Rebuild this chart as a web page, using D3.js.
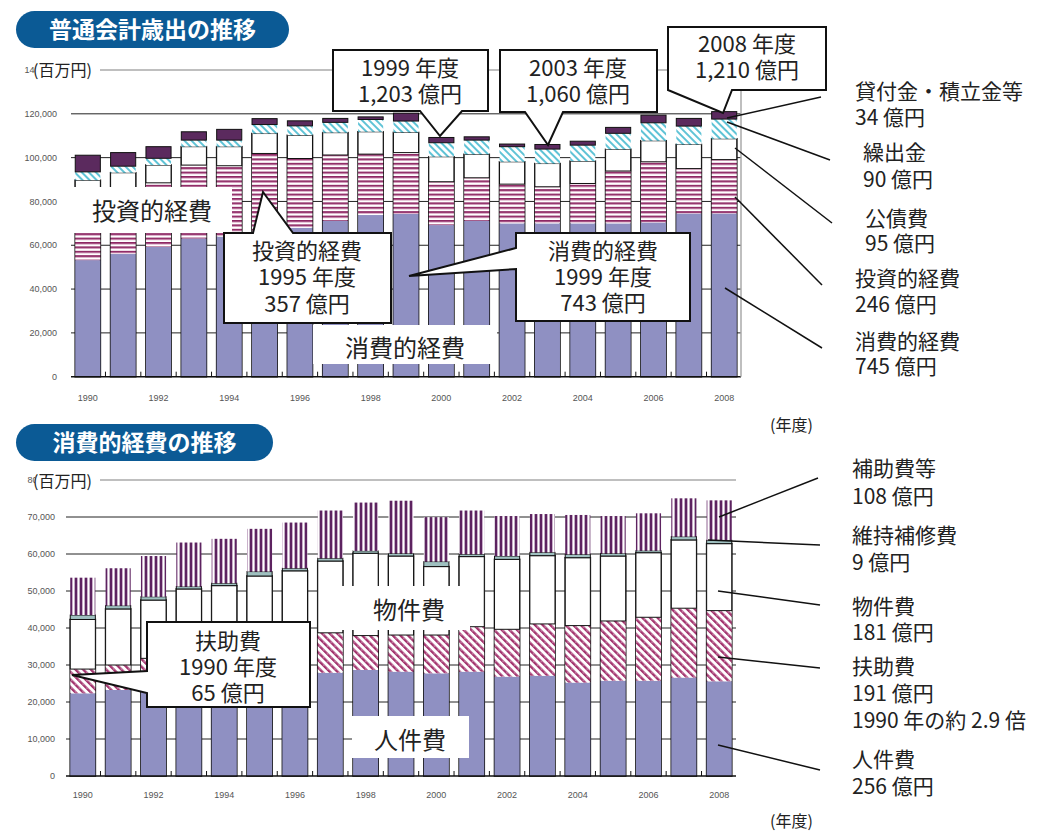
<!DOCTYPE html>
<html lang="ja">
<head>
<meta charset="UTF-8">
<title>普通会計歳出の推移 / 消費的経費の推移</title>
<script src="https://d3js.org/d3.v7.min.js"></script>
<style>
  body { margin: 0; background: #fff; }
  text { font-family: 'Noto Sans CJK JP', sans-serif; }
</style>
</head>
<body>
<svg id="chart" width="1062" height="832"></svg>
<script>
// ---- data (百万円) ----
const years = ["1990","1991","1992","1993","1994","1995","1996","1997","1998","1999",
               "2000","2001","2002","2003","2004","2005","2006","2007","2008"];
const yearTicks = ["1990","1992","1994","1996","1998","2000","2002","2004","2006","2008"];

// 普通会計歳出
const consumptive = [53200, 56000, 59300, 63100, 64000, 66200, 68000, 71200, 73800, 74300, 69200, 71200, 70000, 70000, 70000, 70000, 70400, 74500, 74500];
const investment  = [29500, 29600, 29200, 33500, 32300, 35700, 31600, 30000, 27800, 28000, 19800, 19600, 17900, 16700, 18200, 23900, 27700, 20500, 24600];
const publicDebt  = [7000, 7500, 8100, 8400, 8700, 9100, 10600, 10200, 10200, 9200, 11400, 10700, 10200, 10600, 10200, 9900, 9600, 11000, 9500];
const transfers   = [3800, 3000, 3100, 3000, 3000, 4100, 4300, 4700, 5600, 5200, 6400, 6500, 6900, 6600, 7300, 7300, 8200, 8400, 9000];
const loans       = [7600, 6200, 5300, 3800, 4900, 2700, 2300, 1800, 1200, 3600, 2400, 1500, 1200, 2100, 1800, 2700, 3500, 3500, 3400];

// 消費的経費
const personnel   = [22350, 23250, 24300, 25000, 25800, 26500, 27200, 27900, 28650, 28200, 27750, 28200, 26850, 27100, 25250, 25750, 25750, 26600, 25600];
const assistance  = [6550, 6750, 7500, 8200, 8800, 9400, 10000, 10800, 9300, 9900, 10350, 12150, 12800, 14000, 15400, 16150, 17150, 18750, 19100];
const goods       = [13400, 15150, 15750, 17350, 16850, 18150, 18250, 19400, 22250, 21350, 18500, 18950, 18900, 18450, 18350, 17550, 17450, 18450, 18100];
const maintenance = [1200, 900, 900, 650, 650, 1200, 700, 750, 650, 700, 1350, 650, 900, 900, 900, 700, 550, 900, 900];
const subsidies   = [10100, 10100, 11000, 11900, 12000, 11550, 12350, 12900, 13050, 14250, 12000, 11800, 10800, 10350, 10650, 10100, 10100, 10350, 10800];

const width = 1062, height = 832;
const svg = d3.select("#chart");
svg.append("rect").attr("width", width).attr("height", height).attr("fill", "white");

// ---- patterns ----
const defs = svg.append("defs");

let p = defs.append("pattern").attr("id", "invest").attr("patternUnits", "userSpaceOnUse")
  .attr("width", 6).attr("height", 4.4);
p.append("rect").attr("width", 6).attr("height", 4.4).attr("fill", "#fff");
p.append("rect").attr("width", 6).attr("height", 1.7).attr("fill", "#8d2763");
p.append("rect").attr("y", 1.7).attr("width", 6).attr("height", 0.9).attr("fill", "#d9a6c4");

p = defs.append("pattern").attr("id", "transfer").attr("patternUnits", "userSpaceOnUse")
  .attr("width", 5).attr("height", 5).attr("patternTransform", "rotate(-45)");
p.append("rect").attr("width", 5).attr("height", 5).attr("fill", "#fff");
p.append("rect").attr("width", 2).attr("height", 5).attr("fill", "#5fc3d6");

p = defs.append("pattern").attr("id", "assist").attr("patternUnits", "userSpaceOnUse")
  .attr("width", 5.4).attr("height", 5.4).attr("patternTransform", "rotate(-45)");
p.append("rect").attr("width", 5.4).attr("height", 5.4).attr("fill", "#fff");
p.append("rect").attr("width", 2.4).attr("height", 5.4).attr("fill", "#a3346e");
p.append("rect").attr("x", 0.8).attr("y", 2.2).attr("width", 0.8).attr("height", 0.9).attr("fill", "#f3dbe7");

p = defs.append("pattern").attr("id", "subsidy").attr("patternUnits", "userSpaceOnUse")
  .attr("width", 5).attr("height", 6);
p.append("rect").attr("width", 5).attr("height", 6).attr("fill", "#fff");
p.append("rect").attr("width", 2).attr("height", 6).attr("fill", "#5d2360");
p.append("rect").attr("x", 2).attr("width", 1).attr("height", 6).attr("fill", "#c9afca");
p.append("rect").attr("x", 4).attr("width", 0.6).attr("height", 6).attr("fill", "#9a7a9c");

const lavender = "#8f90c2";

// ---- generic stacked chart ----
function stackChart(opt) {
  const g = svg.append("g");
  const x = d3.scaleBand().domain(years).range(opt.xRange).paddingInner(0.29).paddingOuter(0.12);
  const y = d3.scaleLinear().domain([0, opt.max]).range(opt.yRange);
  const ticks = y.ticks(opt.tickCount);

  // grid
  g.selectAll(".grid").data(ticks.filter(v => v > 0)).join("line")
    .attr("x1", v => v === opt.max ? opt.topLineStart : opt.xRange[0]).attr("x2", opt.xRange[1])
    .attr("y1", v => y(v)).attr("y2", v => y(v))
    .attr("stroke", v => v === opt.max ? "#aaa" : "#222")
    .attr("stroke-width", v => v === opt.max ? 1.5 : 1);

  const rows = years.map((yr, i) => {
    const r = { year: yr };
    opt.series.forEach(s => r[s.key] = s.values[i]);
    return r;
  });
  const stacked = d3.stack().keys(opt.series.map(s => s.key))(rows);

  // outline of the whole bar up to the white segment
  const wl = stacked[opt.outlineIndex];
  g.selectAll(".outline").data(wl).join("rect")
    .attr("x", d => x(d.data.year)).attr("width", x.bandwidth())
    .attr("y", d => y(d[1])).attr("height", d => y(0) - y(d[1]))
    .attr("fill", "none").attr("stroke", "#111").attr("stroke-width", 1.6);

  stacked.forEach((layer, li) => {
    const s = opt.series[li];
    g.selectAll(".seg" + li).data(layer).join("rect")
      .attr("x", d => x(d.data.year)).attr("width", x.bandwidth())
      .attr("y", d => y(d[1])).attr("height", d => y(d[0]) - y(d[1]))
      .attr("fill", s.fill)
      .attr("stroke", s.stroke || "none").attr("stroke-width", 1);
  });

  // axis line + boundary ticks
  g.append("line").attr("x1", opt.xRange[0]).attr("x2", opt.xRange[1])
    .attr("y1", y(0)).attr("y2", y(0)).attr("stroke", "#111").attr("stroke-width", 1.5);
  const step = x.step();
  g.selectAll(".bt").data(years.slice(1)).join("line")
    .attr("x1", d => x(d) - step * x.paddingInner() / 2).attr("x2", d => x(d) - step * x.paddingInner() / 2)
    .attr("y1", y(0)).attr("y2", y(0) - 5).attr("stroke", "#111");

  // tick labels (the top one sits under the unit label, as in the original)
  g.selectAll(".yl").data(ticks).join("text")
    .attr("x", opt.labelX).attr("y", v => y(v)).attr("dy", "0.35em")
    .attr("text-anchor", "end").attr("font-size", 9).attr("fill", "#555")
    .style("font-family", "'Liberation Sans', sans-serif")
    .text(v => d3.format(",")(v));
  g.selectAll(".xl").data(yearTicks).join("text")
    .attr("x", d => x(d) + x.bandwidth() / 2).attr("y", opt.xLabelY).attr("dy", "0.35em")
    .attr("text-anchor", "middle").attr("font-size", 9).attr("fill", "#555")
    .style("font-family", "'Liberation Sans', sans-serif")
    .text(d => d);
  return { g, x, y };
}

// ---- top chart ----
const topChart = stackChart({
  xRange: [71, 741], yRange: [376.7, 70], max: 140000, tickCount: 7, topLineStart: 100,
  labelX: 57, xLabelY: 398, outlineIndex: 2,
  series: [
    { key: "消費的経費", values: consumptive, fill: lavender },
    { key: "投資的経費", values: investment, fill: "url(#invest)" },
    { key: "公債費", values: publicDebt, fill: "#fff", stroke: "#111" },
    { key: "繰出金", values: transfers, fill: "url(#transfer)" },
    { key: "貸付金・積立金等", values: loans, fill: "#5b2a5e", stroke: "#111" }
  ]
});
topChart.g.append("line").attr("x1", 741).attr("x2", 741)
  .attr("y1", topChart.y(140000)).attr("y2", topChart.y(0))
  .attr("stroke", "#aaa").attr("stroke-width", 1.5);

// ---- bottom chart ----
const bottomChart = stackChart({
  xRange: [66, 736], yRange: [776, 480], max: 80000, tickCount: 8, topLineStart: 100,
  labelX: 55, xLabelY: 795, outlineIndex: 2,
  series: [
    { key: "人件費", values: personnel, fill: lavender },
    { key: "扶助費", values: assistance, fill: "url(#assist)" },
    { key: "物件費", values: goods, fill: "#fff", stroke: "#111" },
    { key: "維持補修費", values: maintenance, fill: "#9fc0c0", stroke: "#111" },
    { key: "補助費等", values: subsidies, fill: "url(#subsidy)" }
  ]
});

// ---- titles ----
function banner(x, y, w, h, label) {
  svg.append("rect").attr("x", x).attr("y", y).attr("width", w).attr("height", h)
    .attr("rx", h / 2).attr("fill", "#0b5a95");
  svg.append("text").attr("x", x + w / 2).attr("y", y + h / 2).attr("dy", "0.36em")
    .attr("text-anchor", "middle").attr("fill", "#fff").attr("font-size", 23).attr("font-weight", "bold")
    .text(label);
}
banner(16, 11, 273, 37, "普通会計歳出の推移");
banner(16, 424, 257, 37, "消費的経費の推移");

function label(x, y, t, size, anchor) {
  return svg.append("text").attr("x", x).attr("y", y).attr("dy", "0.36em")
    .attr("text-anchor", anchor || "start").attr("font-size", size).attr("fill", "#222").text(t);
}

// unit labels
svg.append("rect").attr("x", 35).attr("y", 60).attr("width", 65).attr("height", 20).attr("fill", "#fff");
label(33, 70, "(百万円)", 16);
svg.append("rect").attr("x", 35).attr("y", 471).attr("width", 65).attr("height", 20).attr("fill", "#fff");
label(33, 481, "(百万円)", 16);
label(770, 425, "(年度)", 16);
label(770, 821, "(年度)", 16);

// white label boxes inside the plots
function whiteBox(x, y, w, h) {
  svg.append("rect").attr("x", x).attr("y", y).attr("width", w).attr("height", h).attr("fill", "#fff");
}
whiteBox(68, 187, 164, 46);
label(152, 211, "投資的経費", 24, "middle");
whiteBox(313, 325, 184, 39);
label(405, 348, "消費的経費", 24, "middle");
whiteBox(342, 586, 128, 44);
label(409, 610, "物件費", 24, "middle");
whiteBox(352, 716, 117, 42);
label(410, 740, "人件費", 24, "middle");

// callouts
function callout(d, cx, lines, ys) {
  svg.append("path").attr("d", d).attr("fill", "#fff").attr("stroke", "#111")
    .attr("stroke-width", 2).attr("stroke-linejoin", "miter");
  lines.forEach((t, i) => label(cx, ys[i], t, 22, "middle"));
}
callout("M333,50H488V111H462L440,136L420,111H333Z", 410, ["1999 年度", "1,203 億円"], [68, 94]);
callout("M500,50H657V112H563L548,145L525,112H500Z", 578, ["2003 年度", "1,060 億円"], [68, 94]);
callout("M668,27H826V90H732L723,113L668,90Z", 747, ["2008 年度", "1,210 億円"], [44, 70]);
callout("M224,233H253L263,192L293,233H391V323H224Z", 307, ["投資的経費", "1995 年度", "357 億円"], [251, 277, 304]);
callout("M516,233H690V321H516V269L409,276L516,248Z", 603, ["消費的経費", "1999 年度", "743 億円"], [251, 277, 303]);
callout("M147,622H310V707H147V693L72,675L147,671Z", 228, ["扶助費", "1990 年度", "65 億円"], [641, 667, 693]);

// right-hand annotations with leader lines
function leader(x1, y1, x2, y2) {
  svg.append("line").attr("x1", x1).attr("y1", y1).attr("x2", x2).attr("y2", y2)
    .attr("stroke", "#111").attr("stroke-width", 1.5);
}
leader(727, 118, 821, 97);
leader(727, 122, 830, 160);
leader(735, 148, 832, 223);
leader(735, 197, 822, 285);
leader(725, 288, 822, 348);
label(855, 91, "貸付金・積立金等", 21); label(855, 117, "34 億円", 21);
label(863, 152, "繰出金", 21);        label(863, 179, "90 億円", 21);
label(865, 218, "公債費", 21);        label(865, 243, "95 億円", 21);
label(855, 278, "投資的経費", 21);    label(855, 304, "246 億円", 21);
label(855, 341, "消費的経費", 21);    label(855, 366, "745 億円", 21);

leader(719, 517, 818, 478);
leader(708, 540, 820, 545);
leader(718, 591, 820, 605);
leader(718, 657, 820, 668);
leader(718, 745, 820, 770);
label(852, 468, "補助費等", 21);      label(852, 496, "108 億円", 21);
label(852, 535, "維持補修費", 21);    label(852, 562, "9 億円", 21);
label(852, 606, "物件費", 21);        label(852, 632, "181 億円", 21);
label(852, 666, "扶助費", 21);        label(852, 693, "191 億円", 21);
label(852, 720, "1990 年の約 2.9 倍", 21);
label(852, 759, "人件費", 21);        label(852, 786, "256 億円", 21);
</script>
</body>
</html>
